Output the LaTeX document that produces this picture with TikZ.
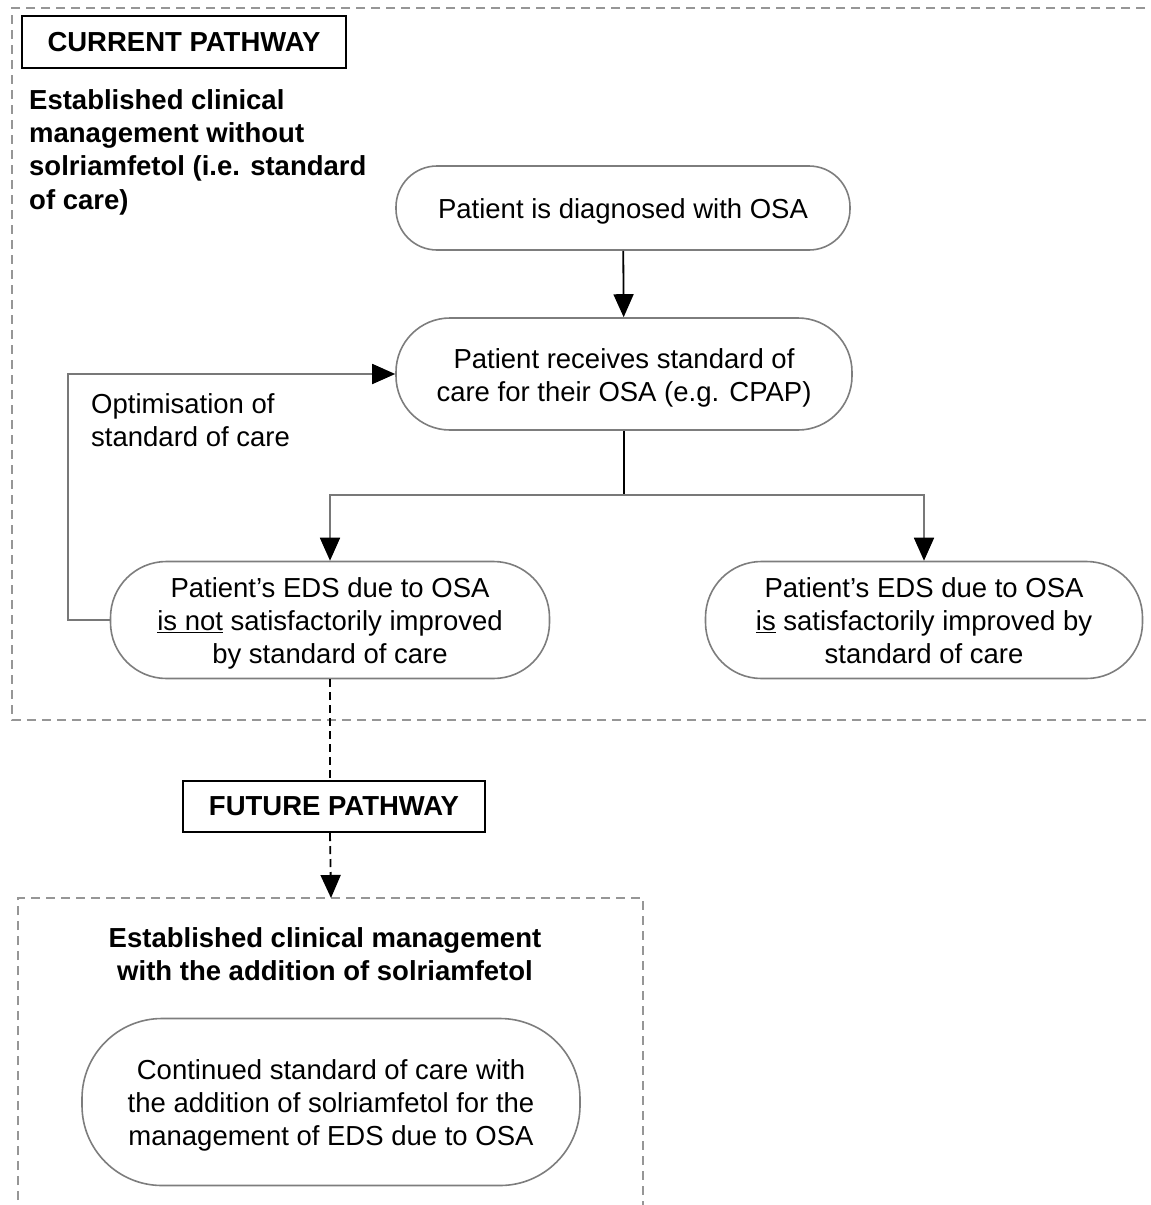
\documentclass[tikz,border=0pt]{standalone}
\usepackage{fontspec}
\setmainfont{Liberation Sans}
\usetikzlibrary{arrows.meta}

\definecolor{pillgray}{RGB}{125,125,125}
\definecolor{dashgray}{RGB}{150,150,150}
\definecolor{linkgray}{RGB}{120,120,120}

\newcommand\bodyfont{\fontsize{27.5}{33.3}\selectfont}
% underline whose rule does not change the line's height or depth
\newcommand\flatul[1]{\smash{\underline{#1}}}
% invisible strut: equal line boxes, text set a little low in its box
\newcommand\pillstrut{\rule[-6pt]{0pt}{33.3pt}}

\tikzset{
  pill/.style={draw=pillgray, line width=1.6pt, fill=white, align=center,
    font=\bodyfont, inner sep=0pt},
  tagbox/.style={draw=black, line width=2pt, fill=white, inner sep=0pt,
    font=\bodyfont\bfseries},
  title/.style={inner sep=0pt, font=\bodyfont\bfseries},
  note/.style={inner sep=0pt, font=\bodyfont, align=left},
  frame/.style={draw=dashgray, line width=1.6pt, dash pattern=on 9pt off 6pt},
  tip/.style={-{Triangle[length=23pt,width=20pt,color=black]}},
  blackflow/.style={draw=black, line width=1.8pt},
  grayflow/.style={draw=linkgray, line width=1.8pt},
  dashflow/.style={draw=black, line width=1.8pt, dash pattern=on 8pt off 5pt}
}

\begin{document}
\begin{tikzpicture}[x=1pt, y=-1pt]
  \useasboundingbox (0,0) rectangle (1151,1205);
  \clip (0,0) rectangle (1151,1205);

  % dashed frames of the two pathways
  \draw[frame] (1160,8) -- (12,8) -- (12,720) -- (1160,720);
  \draw[frame] (18,1215) -- (18,898) -- (643,898) -- (643,1215);

  % headings
  \node[tagbox, minimum width=324pt, minimum height=52pt] (current) at (184,42) {CURRENT PATHWAY};
  \node[title, anchor=north west, align=left] (curtitle) at (29,89)
    {Established clinical\\management without\\solriamfetol (i.e. standard\\of care)};

  % current pathway steps
  \node[pill, minimum width=454pt, minimum height=84pt, rounded corners=41pt] (diag) at (623,208)
    {\pillstrut Patient is diagnosed with OSA};
  \node[pill, minimum width=456pt, minimum height=112pt, rounded corners=54pt] (soc) at (624,374)
    {\pillstrut Patient receives standard of\\\pillstrut care for their OSA (e.g. CPAP)};
  \node[pill, minimum width=439pt, minimum height=117pt, rounded corners=56pt] (notimp) at (330,620)
    {\pillstrut Patient’s EDS due to OSA\\\pillstrut\flatul{is not} satisfactorily improved\\\pillstrut by standard of care};
  \node[pill, minimum width=437pt, minimum height=117pt, rounded corners=56pt] (imp) at (924,620)
    {\pillstrut Patient’s EDS due to OSA\\\pillstrut\flatul{is} satisfactorily improved by\\\pillstrut standard of care};

  \node[note, anchor=north west] (optim) at (91,393) {Optimisation of\\standard of care};

  % future pathway
  \node[tagbox, minimum width=302pt, minimum height=51pt] (future) at (334,806.5) {FUTURE PATHWAY};
  \node[title, anchor=north, align=center] (futtitle) at (325,927)
    {Established clinical management\\with the addition of solriamfetol};
  \node[pill, minimum width=498pt, minimum height=167pt, rounded corners=80pt] (cont) at (331,1102)
    {\pillstrut Continued standard of care with\\\pillstrut the addition of solriamfetol for the\\\pillstrut management of EDS due to OSA};

  % connectors
  \coordinate (split) at (624,495);
  \coordinate (loop) at (68,620);
  \coordinate (futtop) at (331,898);

  \draw[blackflow, tip] (diag) -- (soc);
  \draw[blackflow] (soc.south) -- (split);
  \draw[grayflow, tip] (split) -| (notimp.north);
  \draw[grayflow, tip] (split) -| (imp.north);
  \draw[grayflow, tip] (notimp.west) -- (loop) |- (soc.west);
  \draw[dashflow] (notimp.south) -- (notimp.south |- future.north);
  \draw[dashflow, tip] (notimp.south |- future.south) -- (futtop);
\end{tikzpicture}
\end{document}
